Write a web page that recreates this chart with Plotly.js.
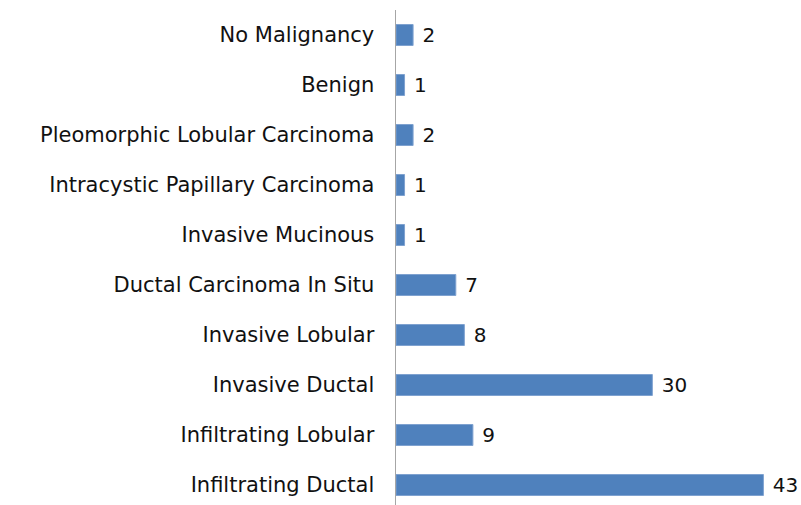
<!DOCTYPE html>
<html>
<head>
<meta charset="utf-8">
<script src="https://cdn.plot.ly/plotly-3.0.1.min.js"></script>
<style>html,body{margin:0;padding:0;background:#fff;}#chart{width:801px;height:505px;}</style>
</head>
<body>
<div id="chart"></div>
<script>
const categories = [
  "Infiltrating Ductal",
  "Infiltrating Lobular",
  "Invasive Ductal",
  "Invasive Lobular",
  "Ductal Carcinoma In Situ",
  "Invasive Mucinous",
  "Intracystic Papillary Carcinoma",
  "Pleomorphic Lobular Carcinoma",
  "Benign",
  "No Malignancy"
];
const counts = [43, 9, 30, 8, 7, 1, 1, 2, 1, 2];

const FONT = "DejaVu Sans";

Plotly.newPlot('chart', [{
  type: 'bar',
  orientation: 'h',
  y: categories,
  x: counts,
  width: 0.42,
  marker: {color: '#4F81BD', line: {color: '#7FA2D0', width: 1}},
  texttemplate: '\u00a0%{x}',
  textposition: 'outside',
  constraintext: 'none',
  cliponaxis: false,
  textfont: {family: FONT, size: 20, color: '#111111'},
  hoverinfo: 'none'
}], {
  width: 801, height: 505,
  margin: {l: 396, r: 0, t: 10, b: 0},
  paper_bgcolor: '#fff', plot_bgcolor: '#fff',
  showlegend: false,
  xaxis: {range: [0, 47.4], showgrid: false, zeroline: false, showticklabels: false, showline: false, ticks: ''},
  yaxis: {
    type: 'category', range: [-0.4, 9.5],
    showgrid: false, zeroline: false,
    showline: true, linecolor: '#A6A6A6', linewidth: 1.5,
    ticks: '', ticklabelstandoff: 16,
    tickfont: {family: FONT, size: 21, color: '#111111'}
  }
}, {staticPlot: true});
</script>
</body>
</html>
